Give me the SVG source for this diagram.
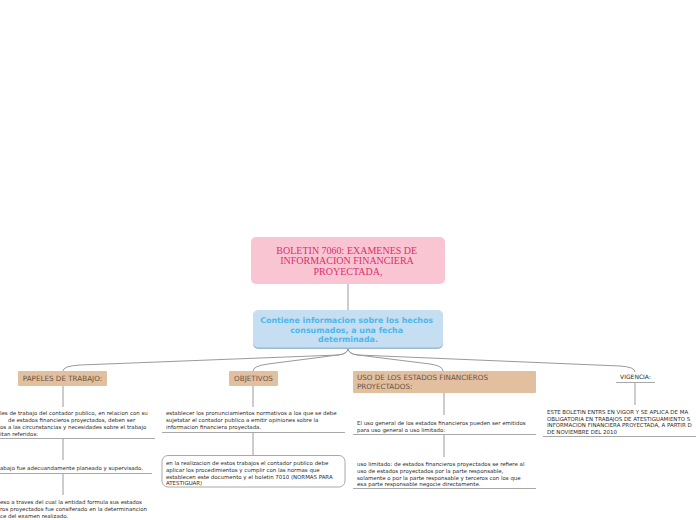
<svg xmlns="http://www.w3.org/2000/svg" width="696" height="520" viewBox="0 0 696 520">
<style>
.conn{fill:none;stroke:#9a9a9a;stroke-width:1}
.ul{stroke:#a8a8a8;stroke-width:1}
.sm{font-family:"DejaVu Sans",Verdana,sans-serif;font-size:5.45px;fill:#2a2a2a}
.topic{font-family:"DejaVu Sans",Verdana,sans-serif;font-size:7.2px;fill:#6b5240}
.tfill{fill:#e2c09f}
</style>
<rect width="696" height="520" fill="#ffffff"/>
<g id="connectors">
<path class="conn" d="M348,284 L348,310"/>
<path class="conn" d="M348,348 Q348,354 338,355 L80,365 Q63,366 63,371"/>
<path class="conn" d="M348,348 Q348,354 338,355 L268,364 Q253,366 253,371"/>
<path class="conn" d="M348,348 Q348,354 358,355 L430,364 Q443,366 443,371"/>
<path class="conn" d="M348,348 Q348,354 358,355 L620,366 Q635,367 635,372"/>
<path class="conn" d="M63,386 L63,407 M63,438 L63,460 M63,473 L63,495"/>
<path class="conn" d="M253,386 L253,407 M253,432 L253,455"/>
<path class="conn" d="M444,393 L444,415 M444,434 L444,457"/>
<path class="conn" d="M635,382 L635,405"/>
</g>
<g id="root">
<rect x="251" y="237" width="194" height="47" rx="5" fill="#f9c5d3"/>
<text font-family="'Liberation Serif',Georgia,serif" font-size="10" fill="#d9306e" text-anchor="middle">
<tspan x="348" y="253.5">BOLETIN 7060: EXAMENES DE</tspan>
<tspan x="348" y="264">INFORMACION FINANCIERA</tspan>
<tspan x="348" y="274.5">PROYECTADA,</tspan>
</text>
</g>
<g id="main">
<rect x="253" y="311" width="190" height="38" rx="5" fill="#9fb8cc"/>
<rect x="253" y="310" width="190" height="37.5" rx="5" fill="#c5def1"/>
<text font-family="'DejaVu Sans',Verdana,sans-serif" font-size="7.9" font-weight="bold" fill="#4db8ee" text-anchor="middle">
<tspan x="348" y="323">Contiene informacion sobre los hechos</tspan>
<tspan x="348" y="332.5">consumados, a una fecha</tspan>
<tspan x="348" y="342">determinada.</tspan>
</text>
</g>
<g id="papeles">
<rect class="tfill" x="18" y="371" width="89" height="15" rx="1"/>
<text class="topic" x="62.5" y="381.2" text-anchor="middle">PAPELES DE TRABAJO:</text>
</g>
<g id="papeles-1">
<text class="sm"><tspan x="0" y="415">les de trabajo del contador publico, en relacion con su</tspan><tspan x="8" y="422">de estados financieros proyectados, deben ser</tspan><tspan x="0" y="429">os a las circunstancias y necesidades sobre el trabajo</tspan><tspan x="0" y="436">itan referidos:</tspan></text>
<line class="ul" x1="0" y1="438.5" x2="155" y2="438.5"/>
</g>
<g id="papeles-2">
<text class="sm" x="0" y="470">abajo fue adecuandamente planeado y supervisado.</text>
<line class="ul" x1="0" y1="473.5" x2="152" y2="473.5"/>
</g>
<g id="papeles-3">
<text class="sm"><tspan x="0" y="504">eso a traves del cual la entidad formula sus estados</tspan><tspan x="0" y="511">ros proyectados fue consiferado en la determinancion</tspan><tspan x="0" y="518">ce del examen realizado.</tspan></text>
</g>
<g id="objetivos">
<rect class="tfill" x="229" y="371" width="49" height="15" rx="1"/>
<text class="topic" x="253.5" y="381.2" text-anchor="middle">OBJETIVOS</text>
</g>
<g id="objetivos-1">
<text class="sm"><tspan x="166" y="415">establecer los pronunciamientos normativos a los que se debe</tspan><tspan x="166" y="422">sujetatar el contador publico a emitir opiniones sobre la</tspan><tspan x="166" y="429">informacion financiera proyectada.</tspan></text>
<line class="ul" x1="162" y1="432.5" x2="345" y2="432.5"/>
</g>
<g id="objetivos-2">
<rect x="162" y="455.5" width="183" height="31.5" rx="6" fill="#ffffff" stroke="#a8a8a8" stroke-width="1"/>
<text class="sm"><tspan x="166" y="465">en la realizacion de estos trabajos el contador publico debe</tspan><tspan x="166" y="472">aplicar los procedimientos y cumplir con las normas que</tspan><tspan x="166" y="479">establecen este documento y el boletin 7010 (NORMAS PARA</tspan><tspan x="166" y="485">ATESTIGUAR)</tspan></text>
</g>
<g id="uso">
<rect class="tfill" x="353" y="371" width="183" height="22" rx="1"/>
<text class="topic"><tspan x="357" y="380">USO DE LOS ESTADOS FINANCIEROS</tspan><tspan x="357" y="388.5">PROYECTADOS:</tspan></text>
</g>
<g id="uso-1">
<text class="sm"><tspan x="357" y="425">El uso general de los estados financieros pueden ser emitidos</tspan><tspan x="357" y="432">para uso general o uso limitado:</tspan></text>
<line class="ul" x1="353" y1="434.5" x2="536" y2="434.5"/>
</g>
<g id="uso-2">
<text class="sm"><tspan x="357" y="466">uso limitado: de estados financieros proyectados se refiere al</tspan><tspan x="357" y="473">uso de estados proyectados por la parte responsable,</tspan><tspan x="357" y="480">solamente o por la parte responsable y terceros con los que</tspan><tspan x="357" y="486">esa parte responsable negocie directamente.</tspan></text>
<line class="ul" x1="353" y1="488.5" x2="536" y2="488.5"/>
</g>
<g id="vigencia">
<text class="sm" x="635.5" y="379" text-anchor="middle" style="font-size:6px">VIGENCIA:</text>
<line class="ul" x1="616" y1="382.5" x2="655" y2="382.5"/>
</g>
<g id="vigencia-1">
<text class="sm"><tspan x="547" y="414">ESTE BOLETIN ENTRS EN VIGOR Y SE APLICA DE MA</tspan><tspan x="547" y="421">OBLIGATORIA EN TRABAJOS DE ATESTIGUAMIENTO S</tspan><tspan x="547" y="427">INFORMACION FINANCIERA PROYECTADA, A PARTIR D</tspan><tspan x="547" y="434">DE NOVIEMBRE DEL 2010</tspan></text>
<line class="ul" x1="543" y1="436.5" x2="696" y2="436.5"/>
</g>
</svg>
